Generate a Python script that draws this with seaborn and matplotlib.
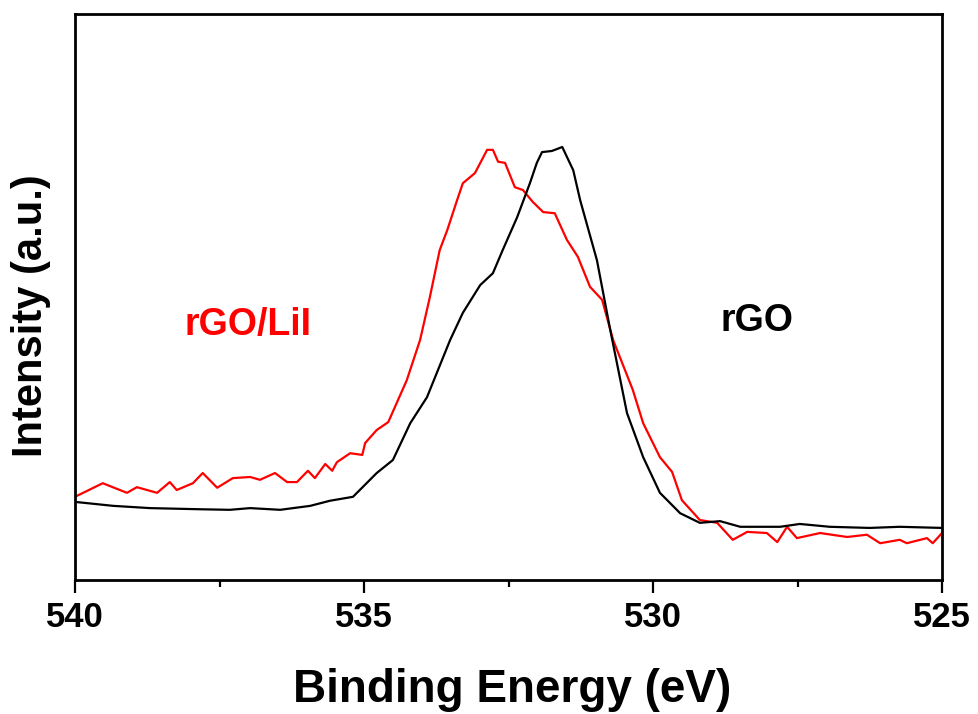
import numpy as np
import pandas as pd
import matplotlib
matplotlib.use("Agg")
import matplotlib.pyplot as plt
import seaborn as sns
from matplotlib.ticker import MultipleLocator

# ---- data ----
rgo_energy = [540.00, 539.34, 538.70, 537.84, 537.32, 536.97, 536.45, 535.93, 535.59, 535.19,
              534.78, 534.50, 534.20, 533.91, 533.51, 533.29, 532.99, 532.77, 532.60, 532.35,
              532.13, 532.01, 531.92, 531.75, 531.57, 531.38, 531.26, 530.97, 530.74, 530.45,
              530.17, 529.88, 529.53, 529.19, 528.84, 528.49, 527.80, 527.46, 526.94, 526.25,
              525.73, 525.00]
rgo_intensity = [13.8, 13.1, 12.7, 12.5, 12.4, 12.7, 12.4, 13.1, 14.0, 14.7,
                 18.9, 21.2, 27.7, 32.3, 42.4, 47.2, 52.1, 54.2, 58.3, 64.1,
                 70.1, 73.7, 75.6, 75.8, 76.5, 72.4, 67.1, 56.5, 44.2, 29.5,
                 21.7, 15.4, 11.8, 10.1, 10.4, 9.4, 9.4, 9.9, 9.4, 9.2,
                 9.4, 9.2]

lii_energy = [540.00, 539.52, 539.10, 538.93, 538.58, 538.36, 538.24, 537.96, 537.79, 537.54,
              537.27, 536.97, 536.80, 536.54, 536.33, 536.16, 535.97, 535.85, 535.67, 535.55,
              535.47, 535.24, 535.03, 534.98, 534.78, 534.58, 534.26, 534.03, 533.86, 533.69,
              533.56, 533.39, 533.29, 533.08, 532.87, 532.77, 532.68, 532.56, 532.39, 532.25,
              532.08, 531.90, 531.70, 531.49, 531.30, 531.09, 530.88, 530.69, 530.35, 530.17,
              529.88, 529.67, 529.50, 529.19, 528.89, 528.62, 528.37, 528.03, 527.85, 527.68,
              527.51, 527.11, 526.64, 526.30, 526.07, 525.73, 525.61, 525.26, 525.16, 525.00]
lii_intensity = [14.7, 17.1, 15.4, 16.4, 15.4, 17.3, 15.9, 17.1, 18.9, 16.3,
                 18.0, 18.2, 17.7, 18.9, 17.3, 17.3, 19.3, 18.0, 20.5, 19.3,
                 20.8, 22.4, 22.1, 24.2, 26.5, 27.9, 35.3, 42.4, 50.0, 58.3,
                 61.8, 67.1, 70.1, 71.9, 76.0, 76.0, 73.9, 73.7, 69.4, 68.9,
                 66.8, 65.0, 64.8, 60.1, 57.1, 51.8, 49.5, 42.4, 33.6, 27.7,
                 21.7, 19.1, 14.1, 10.6, 10.1, 7.1, 8.5, 8.3, 6.7, 9.4,
                 7.4, 8.3, 7.6, 8.0, 6.5, 7.1, 6.5, 7.4, 6.5, 8.3]

x_ticks = [540, 535, 530, 525]
series_names = ["rGO", "rGO/LiI"]
series_colors = ["#000000", "#ff0000"]

df = pd.concat([
    pd.DataFrame({"energy": rgo_energy, "intensity": rgo_intensity, "sample": series_names[0]}),
    pd.DataFrame({"energy": lii_energy, "intensity": lii_intensity, "sample": series_names[1]}),
], ignore_index=True)

sns.set_style("ticks")
plt.rcParams["font.family"] = ["Liberation Sans", "DejaVu Sans"]
plt.rcParams["text.color"] = "black"
plt.rcParams["xtick.color"] = "black"
plt.rcParams["axes.labelcolor"] = "black"

fig = plt.figure(figsize=(9.79, 7.14), dpi=100)
ax = fig.add_axes([75 / 979, 1 - 580 / 714, (942 - 75) / 979, (580 - 14) / 714])

sns.lineplot(data=df, x="energy", y="intensity", hue="sample",
             palette=dict(zip(series_names, series_colors)),
             hue_order=series_names[::-1],
             sort=False, estimator=None, linewidth=1.6, legend=False, ax=ax)

ax.set_xlim(540, 525)
ax.set_ylim(0, 100)
ax.set_xticks(x_ticks)
ax.set_xticklabels([str(t) for t in x_ticks])
ax.xaxis.set_minor_locator(MultipleLocator(2.5))
ax.set_yticks([])
ax.set_xlabel("")
ax.set_ylabel("")

for s in ax.spines.values():
    s.set_visible(True)
    s.set_linewidth(2.0)
    s.set_color("black")

ax.tick_params(axis="x", which="major", direction="out", length=9, width=1.6,
               labelsize=25, pad=6, colors="black", labelcolor="black")
ax.tick_params(axis="x", which="minor", direction="out", length=5, width=1.6, colors="black")
for lbl in ax.get_xticklabels():
    lbl.set_fontweight("bold")
    lbl.set_color("black")

ax.text(537.0, 45.1, "rGO/LiI", color="#ff0000", fontsize=27, fontweight="bold",
        ha="center", va="center")
ax.text(528.2, 45.8, "rGO", color="black", fontsize=27, fontweight="bold",
        ha="center", va="center")

fig.text(512 / 979, 1 - 690 / 714, "Binding Energy (eV)", fontsize=33, fontweight="bold",
         ha="center", va="center", color="black")
fig.text(31 / 979, 1 - 316 / 714, "Intensity (a.u.)", fontsize=30, fontweight="bold",
         ha="center", va="center", rotation=90, color="black")

fig.savefig("out.png", dpi=100, facecolor="white")
